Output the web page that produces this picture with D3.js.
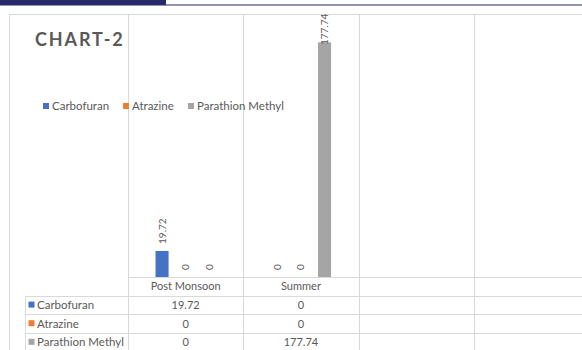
<!DOCTYPE html>
<html>
<head>
<meta charset="utf-8">
<script src="https://cdn.jsdelivr.net/npm/d3@7"></script>
<style>
  body { margin: 0; background: #fff; }
  svg { display: block; font-family: Lato, "Noto Sans", sans-serif; }
</style>
</head>
<body>
<svg id="chart" width="582" height="350"></svg>
<script>
// chart data
const categories = ["Post Monsoon", "Summer", "", ""];
const seriesNames = ["Carbofuran", "Atrazine", "Parathion Methyl"];
const carbofuran = [19.72, 0];
const atrazine = [0, 0];
const parathionMethyl = [0, 177.74];
const colors = ["#4472C4", "#ED7D31", "#A5A5A5"];
const yTicks = [0, 200];

const seriesValues = [carbofuran, atrazine, parathionMethyl];

document.addEventListener('DOMContentLoaded', () => {
  const svg = d3.select('#chart');
  const W = 582, H = 350;
  const grid = '#d9d9d9';
  const textCol = '#595959';

  // top banner cut off from the page above
  svg.append('rect').attr('x', 0).attr('y', 0).attr('width', 166).attr('height', 5.5).attr('fill', '#262a68');
  svg.append('line').attr('x1', 166).attr('x2', W).attr('y1', 5).attr('y2', 5)
    .attr('stroke', '#262a68').attr('stroke-width', 1.2);

  // outer chart border
  svg.append('rect').attr('x', 9.5).attr('y', 14.5).attr('width', W).attr('height', H)
    .attr('fill', 'none').attr('stroke', grid);

  const plotLeft = 128, bandW = 115.3, baseY = 277, topY = 13;
  const rowH = 18.6;

  const x0 = d3.scaleBand().domain(d3.range(categories.length))
    .range([plotLeft, plotLeft + bandW * categories.length]);
  const x1 = d3.scaleBand().domain(seriesNames)
    .range([22, bandW - 22]).paddingInner(0.447).paddingOuter(0.234);
  const y = d3.scaleLinear().domain(d3.extent(yTicks)).range([baseY, topY]);

  // vertical category separators, through the data table
  const sepXs = d3.range(categories.length + 1).map(i => plotLeft + i * bandW);
  svg.selectAll('line.sep').data(sepXs).enter().append('line')
    .attr('class', 'sep')
    .attr('x1', d => Math.round(d) + 0.5).attr('x2', d => Math.round(d) + 0.5)
    .attr('y1', 14.5).attr('y2', H)
    .attr('stroke', grid);

  // table horizontal lines
  const tableTop = baseY;
  const rowYs = d3.range(5).map(i => tableTop + i * rowH);
  svg.selectAll('line.row').data(rowYs).enter().append('line')
    .attr('class', 'row')
    .attr('x1', (d, i) => i === 0 ? plotLeft : 25)
    .attr('x2', W)
    .attr('y1', d => Math.round(d) + 0.5).attr('y2', d => Math.round(d) + 0.5)
    .attr('stroke', grid);
  svg.append('line').attr('x1', 25.5).attr('x2', 25.5)
    .attr('y1', tableTop + rowH).attr('y2', H).attr('stroke', grid);

  // bars
  const groups = svg.selectAll('g.cat').data(categories).enter().append('g')
    .attr('class', 'cat')
    .attr('transform', (d, i) => `translate(${x0(i)},0)`);

  groups.each(function (cat, ci) {
    if (ci >= carbofuran.length) return;
    const g = d3.select(this);
    seriesNames.forEach((s, si) => {
      const v = seriesValues[si][ci];
      g.append('rect')
        .attr('x', x1(s)).attr('width', x1.bandwidth())
        .attr('y', y(v)).attr('height', baseY - y(v))
        .attr('fill', colors[si]);
      // excel pushes the top label down inside the plot
      const labelEnd = Math.max(y(v) - 7, 45);
      g.append('text')
        .attr('transform', `translate(${x1(s) + x1.bandwidth() / 2 + 3.5},${labelEnd}) rotate(-90)`)
        .attr('fill', textCol).attr('font-size', 10)
        .text(v);
    });
  });

  // category labels
  svg.selectAll('text.catlab').data(categories).enter().append('text')
    .attr('class', 'catlab')
    .attr('x', (d, i) => x0(i) + bandW / 2).attr('y', baseY + 13)
    .attr('text-anchor', 'middle').attr('fill', textCol).attr('font-size', 11)
    .text(d => d);

  // data table rows
  seriesNames.forEach((s, si) => {
    const ry = tableTop + (si + 1) * rowH;
    svg.append('rect').attr('x', 28.5).attr('y', ry + 6).attr('width', 6).attr('height', 6)
      .attr('fill', colors[si]);
    svg.append('text').attr('x', 37).attr('y', ry + 13.5)
      .attr('fill', textCol).attr('font-size', 11.5).text(s);
    seriesValues[si].forEach((v, ci) => {
      svg.append('text').attr('x', x0(ci) + bandW / 2).attr('y', ry + 13.5)
        .attr('text-anchor', 'middle').attr('fill', textCol).attr('font-size', 11)
        .text(v);
    });
  });

  // title
  svg.append('text').attr('x', 35).attr('y', 45.5)
    .attr('fill', textCol).attr('font-size', 18).attr('font-weight', 'bold')
    .attr('letter-spacing', 1.9).text('CHART-2');

  // legend
  const legend = svg.append('g').attr('transform', 'translate(43,106)');
  const legendX = [0, 80, 145];
  seriesNames.forEach((s, si) => {
    legend.append('rect').attr('x', legendX[si]).attr('y', -3).attr('width', 6).attr('height', 6)
      .attr('fill', colors[si]);
    legend.append('text').attr('x', legendX[si] + 9).attr('y', 4)
      .attr('fill', textCol).attr('font-size', 11.5).text(s);
  });
});
</script>
</body>
</html>
